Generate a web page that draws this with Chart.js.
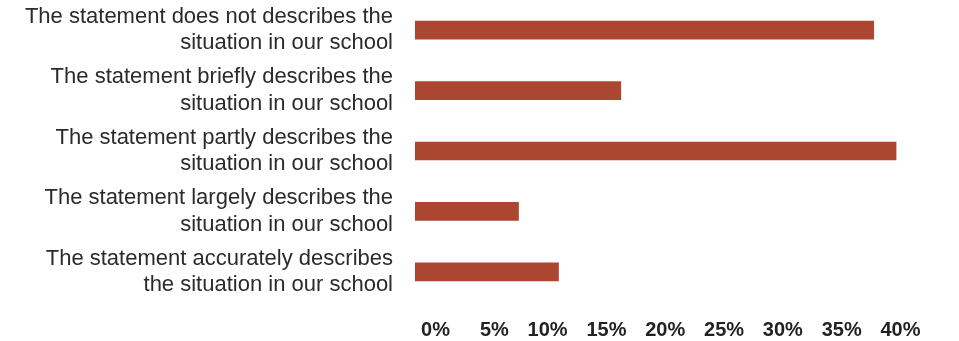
<!DOCTYPE html>
<html>
<head>
<meta charset="utf-8">
<script src="https://cdn.jsdelivr.net/npm/chart.js@4.4.0/dist/chart.umd.min.js"></script>
<style>
    body { margin: 0; background: #fff; }
    #wrap { width: 959px; height: 341px; position: relative; }
</style>
</head>
<body>
<div id="wrap"><canvas id="surveyChart"></canvas></div>
<script>
// categories (top to bottom) and their shares in percent
const categories = [
    ['The statement does not describes the', 'situation in our school'],
    ['The statement briefly describes the', 'situation in our school'],
    ['The statement partly describes the', 'situation in our school'],
    ['The statement largely describes the', 'situation in our school'],
    ['The statement accurately describes', 'the situation in our school']
];
const shares = [39.0, 17.5, 40.9, 8.8, 12.2];
const tickValues = [0, 5, 10, 15, 20, 25, 30, 35, 40];

document.addEventListener('DOMContentLoaded', function() {
    const ctx = document.getElementById('surveyChart').getContext('2d');
    new Chart(ctx, {
        type: 'bar',
        data: {
            labels: categories,
            datasets: [{
                data: shares,
                backgroundColor: '#AB4731',
                barThickness: 18
            }]
        },
        options: {
            indexAxis: 'y',
            responsive: true,
            maintainAspectRatio: false,
            animation: false,
            layout: { padding: { left: 0, right: 50, top: 0, bottom: 0 } },
            plugins: {
                legend: { display: false },
                tooltip: { enabled: false }
            },
            scales: {
                x: {
                    min: 0,
                    max: 42,
                    grid: { display: false, drawTicks: false },
                    border: { display: false },
                    afterBuildTicks: function(scale) {
                        scale.ticks = tickValues.map(v => ({ value: v }));
                    },
                    afterFit: function(scale) {
                        scale.height = 39;
                        scale.paddingLeft = 0;
                        scale.paddingRight = 0;
                    },
                    ticks: {
                        align: 'end',
                        labelOffset: 35,
                        padding: 16,
                        color: '#222',
                        font: { family: 'Liberation Sans', size: 20, weight: 'bold' },
                        callback: function(value) { return value + '%'; }
                    }
                },
                y: {
                    grid: { display: false, drawTicks: false },
                    border: { display: false },
                    afterFit: function(scale) {
                        scale.width = 415;
                        scale.paddingTop = 0;
                        scale.paddingBottom = 0;
                    },
                    ticks: {
                        padding: 22,
                        color: '#2b2b2b',
                        font: { family: 'Liberation Sans', size: 22, lineHeight: 1.2 }
                    }
                }
            }
        }
    });
});
</script>
</body>
</html>
